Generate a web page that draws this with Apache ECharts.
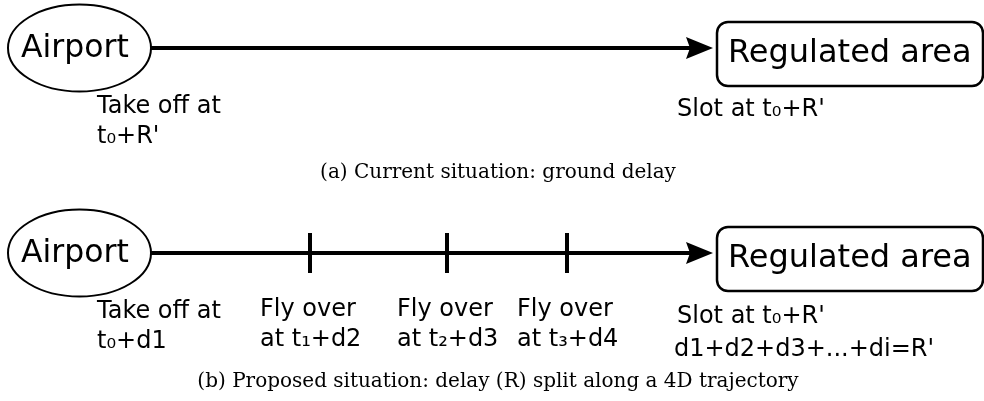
<!DOCTYPE html>
<html>
<head>
<meta charset="utf-8">
<script src="https://cdn.jsdelivr.net/npm/echarts@6/dist/echarts.min.js"></script>
<style>
  html, body { margin: 0; padding: 0; background: #fff; }
  #main { width: 984px; height: 401px; }
</style>
</head>
<body>
<div id="main"></div>
<script>
// panel data
var panelY = [48, 253];                 // y of the trajectory, panel (a) and (b)
var trackFrom = 151, trackTo = 713;     // from airport to regulated area
var waypointX = [310, 447, 567];        // fly-over points on panel (b)
var nodeLabels = ['Airport', 'Regulated area'];
var startLabels = [['Take off at', 't₀+R\''], ['Take off at', 't₀+d1']];
var waypointLabels = [['Fly over', 'at t₁+d2'], ['Fly over', 'at t₂+d3'], ['Fly over', 'at t₃+d4']];
var slotLabels = [['Slot at t₀+R\''], ['Slot at t₀+R\'', 'd1+d2+d3+...+di=R\'']];
var captions = ['(a) Current situation: ground delay',
                '(b) Proposed situation: delay (R) split along a 4D trajectory'];

var SANS = '"DejaVu Sans", sans-serif';
var SERIF = '"DejaVu Serif", serif';

var chart = echarts.init(document.getElementById('main'), null, { renderer: 'canvas' });

// text helper, y is the baseline
function txt(x, y, s, size, family, align) {
  return {
    type: 'text',
    style: {
      x: x, y: y - size * 0.3,
      text: s,
      font: size + 'px ' + family,
      fill: '#000',
      align: align || 'left',
      verticalAlign: 'middle'
    }
  };
}

var panelData = panelY.map(function (y, i) { return [i, y]; });

var option = {
  animation: false,
  grid: { left: 0, right: 0, top: 0, bottom: 0 },
  xAxis: { type: 'value', min: 0, max: 984, show: false },
  yAxis: { type: 'value', min: 0, max: 401, inverse: true, show: false },
  series: [
    {
      // trajectory arrow
      type: 'custom',
      name: 'track',
      data: panelY.map(function (y) { return [trackFrom, y, trackTo]; }),
      renderItem: function (params, api) {
        var a = api.coord([api.value(0), api.value(1)]);
        var b = api.coord([api.value(2), api.value(1)]);
        return {
          type: 'group',
          children: [
            { type: 'line', shape: { x1: a[0], y1: a[1], x2: b[0] - 22, y2: b[1] },
              style: { stroke: '#000', lineWidth: 4 } },
            { type: 'polygon', shape: { points: [[b[0] - 27, b[1] - 11], [b[0], b[1]], [b[0] - 27, b[1] + 11], [b[0] - 23, b[1]]] },
              style: { fill: '#000' } }
          ]
        };
      }
    },
    {
      // fly-over marks
      type: 'scatter',
      name: 'waypoints',
      data: waypointX.map(function (x) { return [x, panelY[1]]; }),
      symbol: 'rect',
      symbolSize: [4, 40],
      itemStyle: { color: '#000', opacity: 1 },
      z: 3
    },
    {
      // airport and regulated area nodes
      type: 'custom',
      name: 'nodes',
      data: panelData,
      renderItem: function (params, api) {
        var y = api.value(1);
        var c = api.coord([79.5, y]);
        var r0 = api.coord([717, y - 26]);
        var r1 = api.coord([983, y + 38]);
        return {
          type: 'group',
          children: [
            { type: 'ellipse', shape: { cx: c[0], cy: c[1], rx: 71.5, ry: 43.5 },
              style: { fill: '#fff', stroke: '#000', lineWidth: 2 } },
            txt(c[0] - 58.5, c[1] + 10, nodeLabels[0], 31.5, SANS),
            { type: 'rect', shape: { x: r0[0], y: r0[1], width: r1[0] - r0[0], height: r1[1] - r0[1], r: 11 },
              style: { fill: '#fff', stroke: '#000', lineWidth: 2.5 } },
            txt(r0[0] + 11, c[1] + 15, nodeLabels[1], 32, SANS)
          ]
        };
      }
    },
    {
      // annotations and captions
      type: 'custom',
      name: 'labels',
      data: panelData,
      renderItem: function (params, api) {
        var i = params.dataIndex;
        var y = api.coord([0, api.value(1)])[1];
        var kids = [];
        startLabels[i].forEach(function (s, k) {
          kids.push(txt(97, y + 66 + k * 30, s, 24, SANS));
        });
        if (i === 1) {
          waypointX.forEach(function (x, w) {
            var px = api.coord([x, 0])[0];
            waypointLabels[w].forEach(function (s, k) {
              kids.push(txt(px - 50, y + 64 + k * 30, s, 24, SANS));
            });
          });
        }
        slotLabels[i].forEach(function (s, k) {
          kids.push(txt(k ? 674 : 677, y + (i ? 71 : 69) + k * 33, s, 24, SANS));
        });
        kids.push(txt(498, y + (i ? 135 : 131), captions[i], 20, SERIF, 'center'));
        return { type: 'group', children: kids };
      }
    }
  ]
};
chart.setOption(option);
</script>
</body>
</html>
